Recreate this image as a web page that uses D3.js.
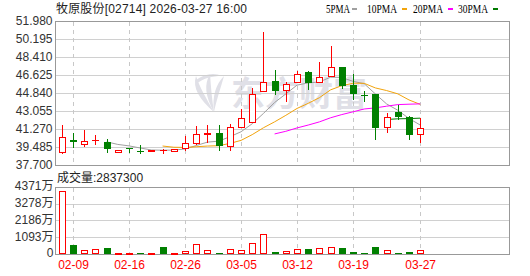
<!DOCTYPE html>
<html><head><meta charset="utf-8">
<script src="https://cdn.jsdelivr.net/npm/d3@7"></script>
<style>html,body{margin:0;padding:0;background:#fff;overflow:hidden}svg{display:block}</style>
</head><body><svg id="c" width="530" height="276"></svg>
<script>
const dates = ["02-06","02-09","02-10","02-11","02-12","02-13","02-16","02-20","02-23","02-24","02-25","02-26","02-27","03-02","03-03","03-04","03-05","03-06","03-09","03-10","03-11","03-12","03-13","03-16","03-17","03-18","03-19","03-20","03-23","03-24","03-25","03-26","03-27"];
const opens  = [39.07,40.20,39.86,40.18,40.00,39.07,39.41,39.12,39.14,39.19,39.17,39.41,39.90,40.87,40.89,39.66,41.55,42.04,45.09,46.08,45.19,45.95,46.94,45.95,46.61,47.44,45.68,44.74,44.79,41.55,42.98,42.48,40.79];
const highs  = [41.72,40.92,41.21,40.72,40.30,39.27,39.43,39.73,39.24,39.34,39.34,40.58,41.62,41.72,41.72,41.82,43.30,45.36,50.91,47.17,46.01,47.07,47.07,47.99,49.58,47.44,46.74,45.09,44.79,42.88,43.70,42.64,42.38];
const lows   = [38.97,39.58,39.68,39.83,39.07,39.04,39.07,38.97,39.09,38.97,39.14,39.24,39.88,40.06,39.24,39.24,41.55,42.04,45.09,44.76,44.10,45.95,45.29,45.95,46.61,45.41,44.25,44.10,40.36,41.05,42.31,40.30,40.00];
const closes = [40.53,40.08,40.11,40.21,39.31,39.24,39.36,39.07,39.21,39.19,39.31,39.90,40.79,40.90,39.66,41.49,42.38,44.76,46.01,45.09,45.75,46.74,45.85,46.51,47.44,45.61,44.82,44.67,41.45,42.48,42.48,40.72,41.45];
// volume in 万 shares
const volumes = [4157,629,298,364,450,30,30,119,30,516,40,212,675,298,100,344,298,741,1337,166,212,364,384,430,497,450,166,100,497,278,100,166,283.73];
const volUp   = [1,0,1,1,0,1,1,0,1,0,1,1,1,1,0,1,1,1,1,0,1,1,0,1,1,0,0,0,0,1,0,0,1];
const tickDates = ["02-09","02-16","02-26","03-05","03-12","03-19","03-27"];
const priceTicks = [37.700,39.485,41.270,43.055,44.840,46.625,48.410,50.195,51.980];
const volTicks = [0,1093,2186,3278,4371];
const maPeriods = [5,10,20,30];
const maLabels = ["5PMA","10PMA","20PMA","30PMA"];
const titleText = "牧原股份[02714] 2026-03-27 16:00";
const volTitleText = "成交量:2837300";
const watermarkText = "东方财富";

const RED = "#ff0000", GREEN = "#008000";
const maColors = ["#a0a0a0","#f2a40c","#ff00ff","#007a00"];
const svg = d3.select("#c");
const L = 55.5, R = 509.5, T = 21.5, B = 165.5, VT = 187.5, VB = 254.5;
const FONT = "'Liberation Sans','Noto Sans CJK SC',sans-serif";

const x = d3.scalePoint().domain(dates).range([61.8, 420.2]);
const y = d3.scaleLinear().domain([priceTicks[0], priceTicks[priceTicks.length-1]]).range([B, T]);
const yv = d3.scaleLinear().domain([0, volTicks[volTicks.length-1]]).range([VB, VT]);
const cx = d => Math.round(x(d)) + 0.5;
const px = v => Math.round(v - 0.5) + 0.5;

// watermark
const wm = svg.append("g").attr("fill", "#e0e0e7");
wm.append("path").attr("d", "M214,112 C200,100 192,88 196,76 C200,88 206,98 214,112 Z");
wm.append("path").attr("d", "M214,112 C205,96 204,84 210,74 C211,88 212,100 214,112 Z");
wm.append("path").attr("d", "M214,112 C212,96 216,84 224,76 C220,90 216,102 214,112 Z");
wm.append("path").attr("d", "M196,80 C204,74 214,72 222,76 C212,76 204,78 196,84 Z");
wm.append("text").attr("x", 231).attr("y", 106).attr("font-size", 34).attr("font-weight", "bold")
  .attr("font-family", "'Noto Sans CJK SC',sans-serif").text(watermarkText);

// grid
const grid = svg.append("g").attr("shape-rendering", "crispEdges");
priceTicks.forEach(t => grid.append("line").attr("x1", L).attr("x2", R)
  .attr("y1", px(y(t))).attr("y2", px(y(t))).attr("stroke", "#d0d0d0"));
volTicks.forEach(t => grid.append("line").attr("x1", L).attr("x2", R)
  .attr("y1", px(yv(t))).attr("y2", px(yv(t))).attr("stroke", "#d0d0d0"));
tickDates.forEach(d => {
  [[T, B], [VT, VB]].forEach(([a, b]) => grid.append("line").attr("x1", cx(d)).attr("x2", cx(d))
    .attr("y1", a).attr("y2", b).attr("stroke", "#c8c8c8").attr("stroke-dasharray", "4,4"));
});

// frames
svg.append("rect").attr("x", L).attr("y", T).attr("width", R-L).attr("height", B-T)
  .attr("fill", "none").attr("stroke", "#999").attr("shape-rendering", "crispEdges");
svg.append("rect").attr("x", L).attr("y", VT).attr("width", R-L).attr("height", VB-VT)
  .attr("fill", "none").attr("stroke", "#999").attr("shape-rendering", "crispEdges");

// moving averages
const maG = svg.append("g");
maPeriods.forEach((p, k) => {
  const pts = [];
  closes.forEach((c, i) => {
    if (i >= p - 1) pts.push([dates[i], d3.mean(closes.slice(i - p + 1, i + 1))]);
  });
  maG.append("path").datum(pts)
    .attr("d", d3.line().x(d => x(d[0])).y(d => y(d[1])))
    .attr("fill", "none").attr("stroke", maColors[k]).attr("stroke-width", 1);
});

// candles
const cg = svg.append("g").attr("shape-rendering", "crispEdges");
dates.forEach((d, i) => {
  const o = opens[i], c = closes[i], h = highs[i], l = lows[i];
  const up = c >= o;
  const col = up ? RED : GREEN;
  const X = cx(d);
  const yt = Math.round(y(Math.max(o, c))), yb = Math.round(y(Math.min(o, c)));
  const yh = Math.round(y(h)), yl = Math.round(y(l));
  if (up) {
    if (yb - yt >= 1) {
      cg.append("line").attr("x1", X).attr("x2", X).attr("y1", yh).attr("y2", yt).attr("stroke", col);
      cg.append("line").attr("x1", X).attr("x2", X).attr("y1", yb + 1).attr("y2", yl + 1).attr("stroke", col);
      cg.append("rect").attr("x", X - 3).attr("y", yt + 0.5).attr("width", 6).attr("height", yb - yt)
        .attr("fill", "#fff").attr("stroke", col);
    } else {
      cg.append("line").attr("x1", X).attr("x2", X).attr("y1", yh).attr("y2", yl + 1).attr("stroke", col);
      cg.append("line").attr("x1", X - 3.5).attr("x2", X + 3.5).attr("y1", yt + 0.5).attr("y2", yt + 0.5).attr("stroke", col);
    }
  } else {
    cg.append("line").attr("x1", X).attr("x2", X).attr("y1", yh).attr("y2", yl + 1).attr("stroke", col);
    cg.append("rect").attr("x", X - 3.5).attr("y", yt).attr("width", 7).attr("height", Math.max(1, yb - yt))
      .attr("fill", col);
  }
});

// volume bars
const vg = svg.append("g").attr("shape-rendering", "crispEdges");
dates.forEach((d, i) => {
  const X = cx(d);
  const top = Math.round(yv(volumes[i]));
  const h = Math.max(1, Math.floor(VB) - top);
  if (volUp[i]) {
    vg.append("rect").attr("x", X - 3).attr("y", Math.min(top, Math.floor(VB) - 1) + 0.5)
      .attr("width", 6).attr("height", Math.max(1, Math.floor(VB) - 1 - top))
      .attr("fill", "#fff").attr("stroke", RED);
  } else {
    vg.append("rect").attr("x", X - 3.5).attr("y", Math.floor(VB) - h).attr("width", 7).attr("height", h)
      .attr("fill", GREEN);
  }
});

// axes
const styleAxis = g => {
  g.select(".domain").remove();
  g.selectAll("text").attr("font-family", FONT).attr("font-size", 12).attr("fill", "#333");
};
svg.append("g").attr("transform", `translate(${L},0)`)
  .call(d3.axisLeft(y).tickValues(priceTicks).tickFormat(d3.format(".3f")).tickSize(0).tickPadding(3))
  .call(styleAxis).selectAll("text").attr("dy", "0.25em");
svg.append("g").attr("transform", `translate(${L},0)`)
  .call(d3.axisLeft(yv).tickValues(volTicks).tickFormat(v => v === 0 ? "0" : v + "万").tickSize(0).tickPadding(2))
  .call(styleAxis).selectAll("text").attr("dy", "0.2em");
svg.append("g").attr("transform", `translate(0,${VB})`)
  .call(d3.axisBottom(x).tickValues(tickDates).tickSize(0).tickPadding(6))
  .call(styleAxis).selectAll("text").attr("fill", RED);

// titles
svg.append("text").attr("x", 56).attr("y", 13).attr("font-family", FONT).attr("font-size", 12)
  .attr("fill", "#222").attr("textLength", 191).attr("lengthAdjust", "spacing").text(titleText);
svg.append("text").attr("x", 57).attr("y", 182).attr("font-family", FONT).attr("font-size", 12)
  .attr("fill", "#222").text(volTitleText);

// legend
const legX = [326, 367, 413, 458];
const legW = [24, 30, 30, 30];
const dashX = [352, 402, 448, 493];
maLabels.forEach((lab, k) => {
  svg.append("text").attr("x", legX[k]).attr("y", 12.5).attr("font-family", "'Liberation Serif',serif")
    .attr("font-size", 12).attr("fill", "#000").attr("textLength", legW[k]).attr("lengthAdjust", "spacingAndGlyphs").text(lab);
  svg.append("rect").attr("x", dashX[k]).attr("y", 8).attr("width", 5).attr("height", 2).attr("fill", maColors[k]);
});
</script></body></html>
